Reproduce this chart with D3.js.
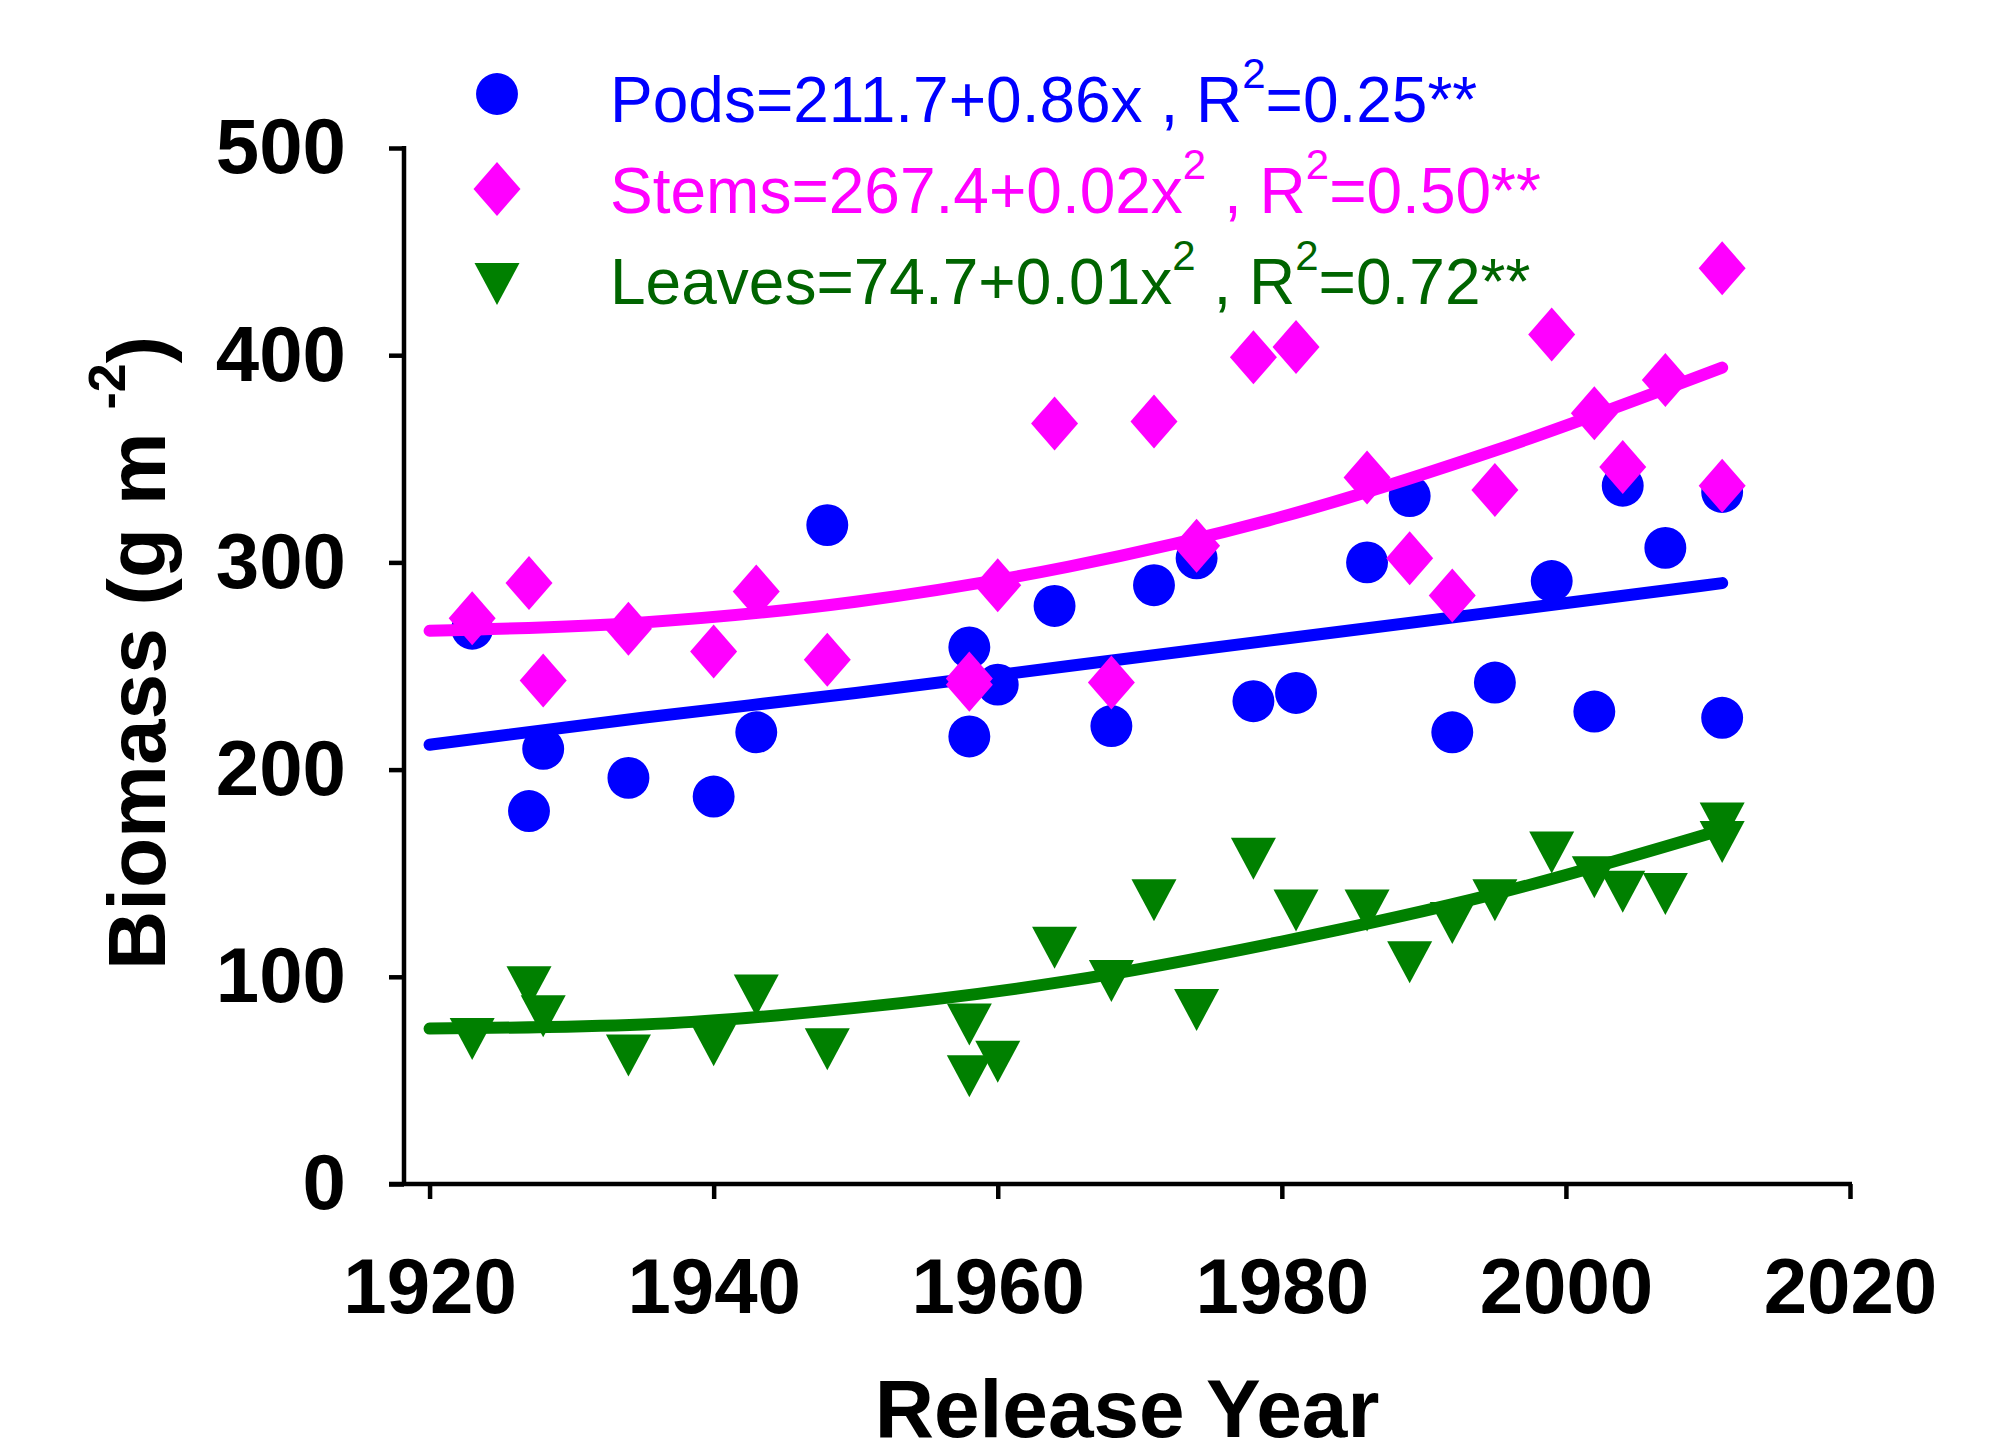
<!DOCTYPE html>
<html>
<head>
<meta charset="utf-8">
<script src="https://cdn.jsdelivr.net/npm/d3@7"></script>
<style>
  body { margin: 0; background: #fff; }
  text { white-space: pre; }
</style>
</head>
<body>
<div class="container"></div>
<script>
// release years of the cultivars
const years = [1923, 1927, 1928, 1934, 1940, 1943, 1948, 1958, 1958, 1960, 1964, 1968, 1971,
  1974, 1978, 1981, 1986, 1989, 1992, 1995, 1999, 2002, 2004, 2007, 2011, 2011];

const pods = [268, 180, 210, 196, 187, 218, 318, 259, 216, 241, 279, 221, 289,
  302, 233, 237, 300, 332, 218, 242, 291, 228, 337, 307, 334, 225];
const stems = [273, 290, 243, 268, 257, 286, 253, 244, 241, 289, 367, 242, 368,
  308, 399, 404, 341, 302, 284, 335, 410, 372, 346, 388, 442, 337];
const leaves = [70, 95, 81, 62, 67, 91, 65, 77, 52, 59, 114, 98, 137,
  84, 157, 132, 132, 107, 126, 137, 160, 148, 141, 140, 174, 165];

// fitted lines
const trendYears = [1920, 1935, 1950, 1965, 1980, 1995, 2011];
const podsTrend = [212, 225, 237, 250, 263, 276, 290];
const stemsTrend = [267, 271, 281, 298, 322, 354, 394];
const leavesTrend = [75, 77, 85, 98, 117, 140, 171];

const legendText = [
  ['Pods=211.7+0.86x , R', '2', '=0.25**'],
  ['Stems=267.4+0.02x', '2', ' , R', '2', '=0.50**'],
  ['Leaves=74.7+0.01x', '2', ' , R', '2', '=0.72**']
];

const yTicks = [0, 100, 200, 300, 400, 500];
const xTicks = [1920, 1940, 1960, 1980, 2000, 2020];

const width = 1992;
const height = 1455;
const plot = { left: 404, right: 1850, top: 148, bottom: 1184 };
const font = 'Liberation Sans, Arial, sans-serif';
const axisWidth = 4.5;

const svg = d3
  .select('.container')
  .append('svg')
  .attr('width', width)
  .attr('height', height);

const x = d3.scaleLinear().domain([1918.2, 2020]).range([plot.left, plot.right]);
const y = d3.scaleLinear().domain([0, 500]).range([plot.bottom, plot.top]);

// marker shapes
const circle = d3.symbol(d3.symbolCircle, 1380)();
const diamond = 'M0,-27L23.5,0L0,27L-23.5,0Z';
const triangle = 'M-22.5,-21L22.5,-21L0,21Z';

const series = [
  { values: pods, trend: podsTrend, color: '#0000ff', text: '#0000ff', shape: circle },
  { values: stems, trend: stemsTrend, color: '#ff00ff', text: '#ff00ff', shape: diamond },
  { values: leaves, trend: leavesTrend, color: '#008000', text: '#006400', shape: triangle }
];

// axes
const yAxis = svg
  .append('g')
  .attr('transform', `translate(${plot.left}, 0)`)
  .call(d3.axisLeft(y).tickValues(yTicks).tickSize(15).tickSizeOuter(0).tickPadding(43));

const xAxis = svg
  .append('g')
  .attr('transform', `translate(0, ${plot.bottom})`)
  .call(d3.axisBottom(x).tickValues(xTicks).tickFormat(d3.format('d')).tickSize(15).tickSizeOuter(0).tickPadding(59));

[yAxis, xAxis].forEach(axis => {
  axis.select('.domain').remove();
  axis.selectAll('line').attr('stroke', '#000').attr('stroke-width', axisWidth);
  axis
    .selectAll('text')
    .attr('fill', '#000')
    .style('font-family', font)
    .style('font-size', '78px')
    .style('font-weight', 'bold');
});

svg
  .append('line')
  .attr('x1', plot.left)
  .attr('x2', plot.left)
  .attr('y1', y(500) - 2)
  .attr('y2', plot.bottom)
  .attr('stroke', '#000')
  .attr('stroke-width', axisWidth);

svg
  .append('line')
  .attr('x1', plot.left - 15)
  .attr('x2', plot.right + 2)
  .attr('y1', plot.bottom)
  .attr('y2', plot.bottom)
  .attr('stroke', '#000')
  .attr('stroke-width', axisWidth);

// axis titles
svg
  .append('text')
  .attr('x', (plot.left + plot.right) / 2)
  .attr('y', 1437)
  .attr('text-anchor', 'middle')
  .style('font-family', font)
  .style('font-size', '82px')
  .style('font-weight', 'bold')
  .text('Release Year');

const yTitle = svg
  .append('text')
  .attr('transform', 'translate(165, 653) rotate(-90)')
  .attr('text-anchor', 'middle')
  .style('font-family', font)
  .style('font-size', '82px')
  .style('font-weight', 'bold');
yTitle.append('tspan').text('Biomass (g m ');
yTitle.append('tspan').attr('dy', -40).style('font-size', '52px').text('-2');
yTitle.append('tspan').attr('dy', 40).text(')');

// points and fitted lines
const line = d3
  .line()
  .x((d, i) => x(trendYears[i]))
  .y(d => y(d))
  .curve(d3.curveMonotoneX);

series.forEach(s => {
  svg
    .append('g')
    .selectAll('path')
    .data(s.values)
    .enter()
    .append('path')
    .attr('d', s.shape)
    .attr('transform', (d, i) => `translate(${x(years[i])}, ${y(d)})`)
    .attr('fill', s.color);

  svg
    .append('path')
    .datum(s.trend)
    .attr('d', line)
    .attr('fill', 'none')
    .attr('stroke', s.color)
    .attr('stroke-width', 12)
    .attr('stroke-linecap', 'round');
});

// legend
const legend = svg.append('g').attr('class', 'legend');

series.forEach((s, i) => {
  legend
    .append('path')
    .attr('d', s.shape)
    .attr('transform', `translate(497, ${94 + i * 95})`)
    .attr('fill', s.color);

  const label = legend
    .append('text')
    .attr('x', 610)
    .attr('y', 122 + i * 91)
    .attr('fill', s.text)
    .style('font-family', font)
    .style('font-size', '64px');

  legendText[i].forEach((part, j) => {
    const sup = j % 2 === 1;
    label
      .append('tspan')
      .attr('dy', j === 0 ? 0 : sup ? -34 : 34)
      .style('font-size', sup ? '42px' : '64px')
      .text(part);
  });
});
</script>
</body>
</html>
